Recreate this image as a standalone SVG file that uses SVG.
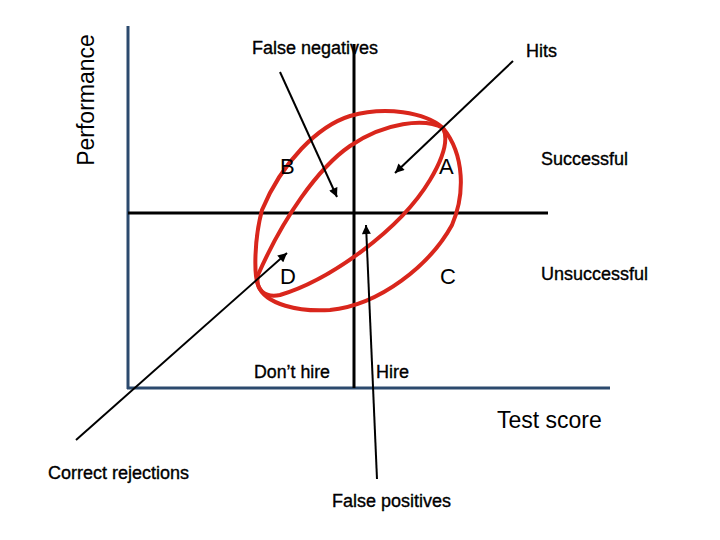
<svg xmlns="http://www.w3.org/2000/svg" width="720" height="540" viewBox="0 0 720 540">
<defs>
<style>
.lbl{font-family:"Liberation Sans",Arial,sans-serif;font-size:18px;fill:#000;stroke:#000;stroke-width:0.35px}
.big{font-family:"Liberation Sans",Arial,sans-serif;font-size:23px;fill:#000}
.quad{font-family:"Liberation Sans",Arial,sans-serif;font-size:22px;fill:#000}
.axis{stroke:#2C4A6E;stroke-width:3;fill:none}
.grid{stroke:#000;stroke-width:3;fill:none}
.arrow{stroke:#000;stroke-width:2;fill:none}
.oval{stroke:#D9261C;stroke-width:4;fill:none;stroke-linejoin:round}
</style>
<marker id="ah" viewBox="0 0 10 10" refX="10" refY="5" markerUnits="userSpaceOnUse" markerWidth="10" markerHeight="9" orient="auto">
<path d="M0,0 L10,5 L0,10 z" fill="#000"/>
</marker>
</defs>
<rect width="720" height="540" fill="#fff"/>
<g id="axes">
<line class="axis" x1="128" y1="26" x2="128" y2="389"/>
<line class="axis" x1="127" y1="388" x2="610" y2="388"/>
</g>
<g id="quadrant-lines">
<line class="grid" x1="128" y1="213" x2="548" y2="213"/>
<line class="grid" x1="354" y1="44" x2="354" y2="388"/>
</g>
<g id="ellipses">
<path id="outer-ellipse" class="oval" d="M443,128 C425,112 385,106 350,116 C318,126 282,162 262,210 C254,240 254,275 258,285 C265,305 300,312 330,310 C380,305 430,265 452,225 C465,195 465,155 443,128 Z"/>
<path id="inner-ellipse" class="oval" d="M443,128 C425,118 385,122 350,146 C318,168 283,218 258,275 C255,290 265,298 280,295 C330,280 400,230 430,180 C445,155 448,138 443,128 Z"/>
</g>
<g id="connectors">
<line class="arrow" x1="513" y1="61" x2="395" y2="173" marker-end="url(#ah)"/>
<line class="arrow" x1="280" y1="72" x2="337" y2="197" marker-end="url(#ah)"/>
<line class="arrow" x1="76" y1="440" x2="287" y2="253" marker-end="url(#ah)"/>
<line class="arrow" x1="377" y1="479" x2="366" y2="225" marker-end="url(#ah)"/>
</g>
<g id="axis-labels">
<text class="big" transform="translate(94,100) rotate(-90)" text-anchor="middle">Performance</text>
<text class="big" x="497" y="428">Test score</text>
</g>
<g id="quadrant-A"><text class="quad" x="439" y="174">A</text></g>
<g id="quadrant-B"><text class="quad" x="280" y="174">B</text></g>
<g id="quadrant-C"><text class="quad" x="440" y="284">C</text></g>
<g id="quadrant-D"><text class="quad" x="280" y="284">D</text></g>
<g id="labels">
<text class="lbl" x="252" y="54">False negatives</text>
<text class="lbl" x="526" y="57">Hits</text>
<text class="lbl" x="541" y="165">Successful</text>
<text class="lbl" x="541" y="280" textLength="107" lengthAdjust="spacingAndGlyphs">Unsuccessful</text>
<text class="lbl" x="254" y="378" textLength="76" lengthAdjust="spacingAndGlyphs">Don’t hire</text>
<text class="lbl" x="376" y="378">Hire</text>
<text class="lbl" x="48" y="479">Correct rejections</text>
<text class="lbl" x="332" y="507">False positives</text>
</g>
</svg>
